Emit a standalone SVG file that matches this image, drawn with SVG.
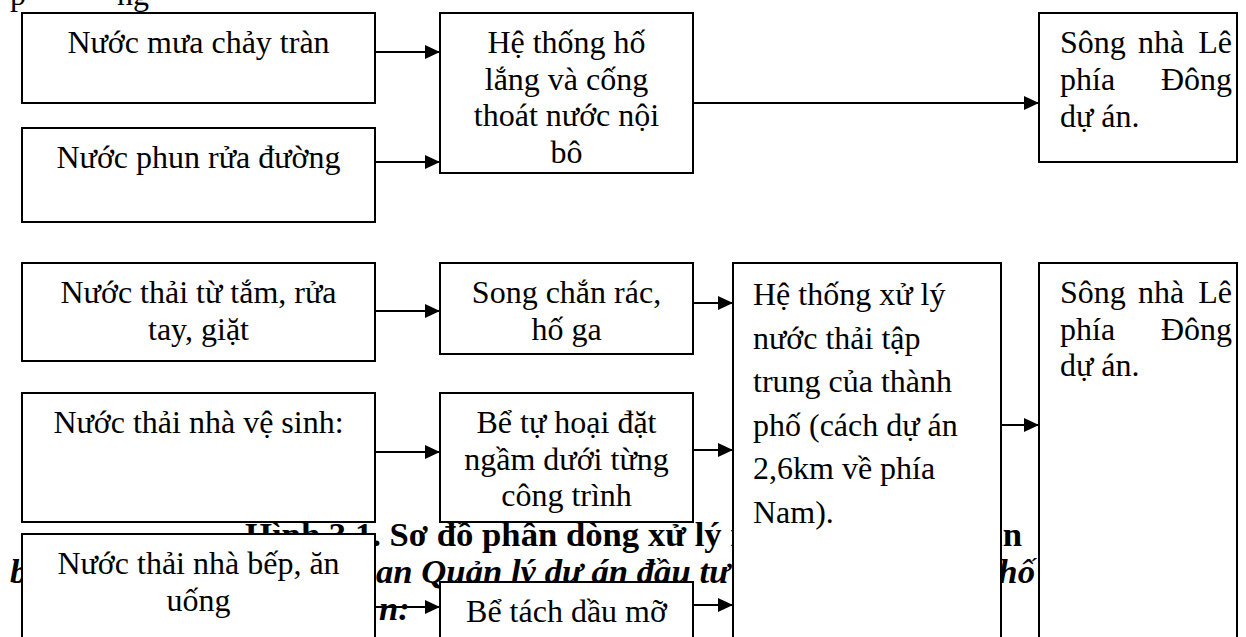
<svg xmlns="http://www.w3.org/2000/svg" width="1246" height="637" viewBox="0 0 1246 637">
<style>
.box{fill:#fff;stroke:#000;stroke-width:2}
.t{font-family:"Liberation Serif","Times New Roman",serif;font-size:32px;fill:#000}
.c{text-anchor:middle}
.e{text-anchor:end}
.cap{font-family:"Liberation Serif","Times New Roman",serif;font-size:34.7px;font-weight:bold;fill:#000}
.capi{font-style:italic}
.ln{stroke:#000;stroke-width:2.2;fill:none;marker-end:url(#ah)}
</style>
<defs>
<marker id="ah" markerUnits="userSpaceOnUse" markerWidth="16" markerHeight="14" refX="15" refY="7" orient="auto">
<path d="M0,0 L15,7 L0,14 z" fill="#000"/>
</marker>
</defs>
<rect width="1246" height="637" fill="#fff"/>
<g id="background-text">
<text class="t" x="10" y="5">p</text>
<text class="t" x="117" y="5">ng</text>
<text class="cap" x="245" y="546">Hình 3.1. Sơ đồ phân dòng xử lý n</text>
<text class="cap e" x="1022" y="546">an</text>
<text class="cap capi" x="10" y="583">b</text>
<text class="cap capi" x="376" y="583">an Quản lý dự án đầu tư</text>
<text class="cap capi e" x="1035" y="583">hố</text>
<text class="cap capi" x="379" y="620">n:</text>
</g>
<g id="n1"><rect class="box" x="22" y="13" width="353" height="90"/><text class="t c" x="198.5" y="53">Nước mưa chảy tràn</text></g>
<g id="n2"><rect class="box" x="22" y="128" width="353" height="94"/><text class="t c" x="198.5" y="168">Nước phun rửa đường</text></g>
<g id="n3"><rect class="box" x="440" y="13" width="253" height="160"/>
<text class="t c" x="566.5" y="53">Hệ thống hố</text>
<text class="t c" x="566.5" y="89.5">lắng và cống</text>
<text class="t c" x="566.5" y="126">thoát nước nội</text>
<text class="t c" x="566.5" y="162.5">bô</text></g>
<g id="n4"><rect class="box" x="1039" y="13" width="198" height="149"/>
<text class="t" x="1060" y="53">Sông</text><text class="t c" x="1161" y="53">nhà</text><text class="t e" x="1232" y="53">Lê</text>
<text class="t" x="1060" y="90">phía</text><text class="t e" x="1232" y="90">Đông</text>
<text class="t" x="1060" y="127">dự án.</text></g>
<g id="n5"><rect class="box" x="22" y="263" width="353" height="98"/>
<text class="t c" x="198.5" y="303">Nước thải từ tắm, rửa</text>
<text class="t c" x="198.5" y="339.5">tay, giặt</text></g>
<g id="n6"><rect class="box" x="22" y="393" width="353" height="129"/>
<text class="t c" x="198.5" y="433">Nước thải nhà vệ sinh:</text></g>
<g id="n7"><rect class="box" x="22" y="534" width="353" height="120"/>
<text class="t c" x="198.5" y="574">Nước thải nhà bếp, ăn</text>
<text class="t c" x="198.5" y="610.5">uống</text></g>
<g id="n8"><rect class="box" x="440" y="263" width="253" height="91"/>
<text class="t c" x="566.5" y="303">Song chắn rác,</text>
<text class="t c" x="566.5" y="339.5">hố ga</text></g>
<g id="n9"><rect class="box" x="440" y="393" width="253" height="129"/>
<text class="t c" x="566.5" y="433">Bể tự hoại đặt</text>
<text class="t c" x="566.5" y="469.5">ngầm dưới từng</text>
<text class="t c" x="566.5" y="506">công trình</text></g>
<g id="n10"><rect class="box" x="440" y="582" width="253" height="70"/>
<text class="t c" x="566.5" y="622">Bể tách dầu mỡ</text></g>
<g id="n11"><rect class="box" x="733" y="263" width="268" height="390"/>
<text class="t" x="753" y="305">Hệ thống xử lý</text>
<text class="t" x="753" y="348.6">nước thải tập</text>
<text class="t" x="753" y="392.2">trung của thành</text>
<text class="t" x="753" y="435.8">phố (cách dự án</text>
<text class="t" x="753" y="479.4">2,6km về phía</text>
<text class="t" x="753" y="523">Nam).</text></g>
<g id="n12"><rect class="box" x="1039" y="263" width="198" height="390"/>
<text class="t" x="1060" y="303">Sông</text><text class="t c" x="1161" y="303">nhà</text><text class="t e" x="1232" y="303">Lê</text>
<text class="t" x="1060" y="339.5">phía</text><text class="t e" x="1232" y="339.5">Đông</text>
<text class="t" x="1060" y="376">dự án.</text></g>
<g id="connectors">
<line class="ln" x1="375" y1="52" x2="440" y2="52"/>
<line class="ln" x1="375" y1="162" x2="440" y2="162"/>
<line class="ln" x1="693" y1="103" x2="1039" y2="103"/>
<line class="ln" x1="375" y1="311" x2="440" y2="311"/>
<line class="ln" x1="693" y1="303" x2="733" y2="303"/>
<line class="ln" x1="375" y1="452" x2="440" y2="452"/>
<line class="ln" x1="693" y1="450" x2="733" y2="450"/>
<line class="ln" x1="375" y1="607" x2="440" y2="607"/>
<line class="ln" x1="693" y1="605" x2="733" y2="605"/>
<line class="ln" x1="1001" y1="425" x2="1039" y2="425"/>
</g>
</svg>
